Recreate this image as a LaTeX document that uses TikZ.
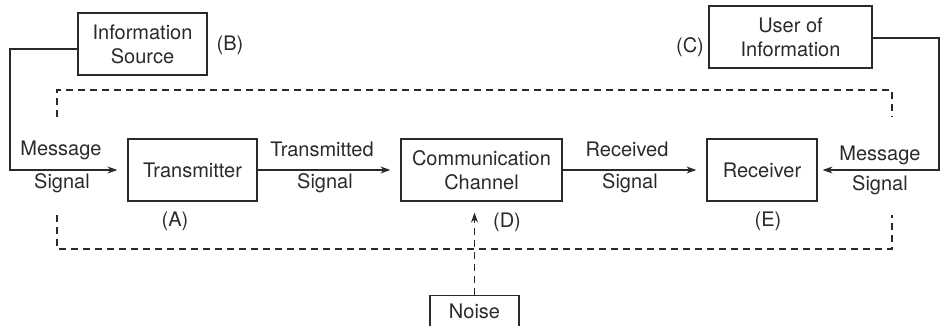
\documentclass[tikz,border=0pt]{standalone}
\usepackage{fontspec}
\setmainfont{TeX Gyre Heros}
\usetikzlibrary{arrows.meta}
\definecolor{ink}{HTML}{2A2A2A}
\begin{document}
\begin{tikzpicture}[x=1pt,y=-1pt,
  every node/.style={text=ink, font=\fontsize{20}{24}\selectfont},
  blk/.style={draw=ink, line width=1.2pt, minimum height=62pt, inner sep=0pt, align=center},
  conn/.style={draw=ink, line width=1.2pt},
  tip/.style={-{Stealth[length=10pt,width=7pt]}},
  arr/.style={conn, tip, shorten >=10pt},
  dsh/.style={draw=ink, line width=1.2pt, dash pattern=on 7pt off 5pt},
  lbl/.style={inner sep=0pt, anchor=center}]
\useasboundingbox (0,0) rectangle (940,326);
\clip (0,0) rectangle (940,326);
% blocks
\node[blk, minimum width=129pt] (src) at (142.5,44) {Information\\Source};
\node[blk, minimum width=163pt] (usr) at (790.5,37) {User of\\Information};
\node[blk, minimum width=129pt] (tx) at (192.5,170) {Transmitter};
\node[blk, minimum width=161pt] (ch) at (481.5,170) {Communication\\Channel};
\node[blk, minimum width=110pt] (rx) at (762,170) {Receiver};
\node[draw=ink, line width=1.2pt, minimum width=89pt, minimum height=50pt, inner sep=0pt, anchor=north] (noise) at (474.5,295) {};
\node[lbl] (noiset) at (474.5,311) {Noise};
% corner coordinates
\coordinate (c1) at (10,49);
\coordinate (c2) at (939,38);
% connectors
\draw[arr] (src.west |- c1) -- (c1) |- (tx.west);
\draw[arr] (tx) -- (ch);
\draw[arr] (ch) -- (rx);
\draw[arr, shorten >=5pt] (usr.east |- c2) -- (c2) |- (rx.east);
\draw[dsh, tip, shorten >=11pt] (noise.north) -- (noise.north |- ch.south);
% dashed frame
\draw[dsh] (57,117) -- (57,90) -- (892,90) -- (892,117);
\draw[dsh] (57,215) -- (57,249) -- (892,249) -- (892,215);
% signal labels
\node[lbl] (m1) at (61,150) {Message};
\node[lbl] (s1) at (62,183) {Signal};
\node[lbl] (t2) at (322,149) {Transmitted};
\node[lbl] (s2) at (325,183) {Signal};
\node[lbl] (r3) at (627,149) {Received};
\node[lbl] (s3) at (630,183) {Signal};
\node[lbl] (m4) at (880,155) {Message};
\node[lbl] (s4) at (880,185) {Signal};
% letters
\node[lbl] (la) at (175,221) {(A)};
\node[lbl] (lb) at (230,45) {(B)};
\node[lbl] (lc) at (690,47) {(C)};
\node[lbl] (ld) at (507,222) {(D)};
\node[lbl] (le) at (768,221) {(E)};
\end{tikzpicture}
\end{document}
